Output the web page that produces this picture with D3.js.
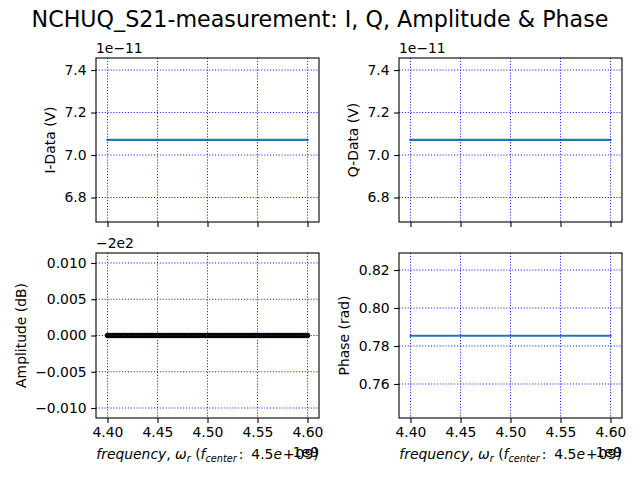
<!DOCTYPE html>
<html>
<head>
<meta charset="utf-8">
<script src="https://cdn.jsdelivr.net/npm/d3@7"></script>
<style>
  body { margin: 0; background: #fff; }
  svg { font-family: "DejaVu Sans", sans-serif; }
</style>
</head>
<body>
<svg id="chart" width="640" height="480"></svg>
<script>
// frequency sweep, in GHz (axis offset 1e9)
var freq = [4.400,4.402,4.404,4.406,4.408,4.410,4.412,4.414,4.416,4.418,
            4.420,4.422,4.424,4.426,4.428,4.430,4.432,4.434,4.436,4.438,
            4.440,4.442,4.444,4.446,4.448,4.450,4.452,4.454,4.456,4.458,
            4.460,4.462,4.464,4.466,4.468,4.470,4.472,4.474,4.476,4.478,
            4.480,4.482,4.484,4.486,4.488,4.490,4.492,4.494,4.496,4.498,
            4.500,4.502,4.504,4.506,4.508,4.510,4.512,4.514,4.516,4.518,
            4.520,4.522,4.524,4.526,4.528,4.530,4.532,4.534,4.536,4.538,
            4.540,4.542,4.544,4.546,4.548,4.550,4.552,4.554,4.556,4.558,
            4.560,4.562,4.564,4.566,4.568,4.570,4.572,4.574,4.576,4.578,
            4.580,4.582,4.584,4.586,4.588,4.590,4.592,4.594,4.596,4.598,
            4.600];

// I and Q in volts
var iData = [7.0711e-11,7.0711e-11,7.0711e-11,7.0711e-11,7.0711e-11,7.0711e-11,7.0711e-11,7.0711e-11,7.0711e-11,7.0711e-11,
             7.0711e-11,7.0711e-11,7.0711e-11,7.0711e-11,7.0711e-11,7.0711e-11,7.0711e-11,7.0711e-11,7.0711e-11,7.0711e-11,
             7.0711e-11,7.0711e-11,7.0711e-11,7.0711e-11,7.0711e-11,7.0711e-11,7.0711e-11,7.0711e-11,7.0711e-11,7.0711e-11,
             7.0711e-11,7.0711e-11,7.0711e-11,7.0711e-11,7.0711e-11,7.0711e-11,7.0711e-11,7.0711e-11,7.0711e-11,7.0711e-11,
             7.0711e-11,7.0711e-11,7.0711e-11,7.0711e-11,7.0711e-11,7.0711e-11,7.0711e-11,7.0711e-11,7.0711e-11,7.0711e-11,
             7.0711e-11,7.0711e-11,7.0711e-11,7.0711e-11,7.0711e-11,7.0711e-11,7.0711e-11,7.0711e-11,7.0711e-11,7.0711e-11,
             7.0711e-11,7.0711e-11,7.0711e-11,7.0711e-11,7.0711e-11,7.0711e-11,7.0711e-11,7.0711e-11,7.0711e-11,7.0711e-11,
             7.0711e-11,7.0711e-11,7.0711e-11,7.0711e-11,7.0711e-11,7.0711e-11,7.0711e-11,7.0711e-11,7.0711e-11,7.0711e-11,
             7.0711e-11,7.0711e-11,7.0711e-11,7.0711e-11,7.0711e-11,7.0711e-11,7.0711e-11,7.0711e-11,7.0711e-11,7.0711e-11,
             7.0711e-11,7.0711e-11,7.0711e-11,7.0711e-11,7.0711e-11,7.0711e-11,7.0711e-11,7.0711e-11,7.0711e-11,7.0711e-11,
             7.0711e-11];
var qData = [7.0711e-11,7.0711e-11,7.0711e-11,7.0711e-11,7.0711e-11,7.0711e-11,7.0711e-11,7.0711e-11,7.0711e-11,7.0711e-11,
             7.0711e-11,7.0711e-11,7.0711e-11,7.0711e-11,7.0711e-11,7.0711e-11,7.0711e-11,7.0711e-11,7.0711e-11,7.0711e-11,
             7.0711e-11,7.0711e-11,7.0711e-11,7.0711e-11,7.0711e-11,7.0711e-11,7.0711e-11,7.0711e-11,7.0711e-11,7.0711e-11,
             7.0711e-11,7.0711e-11,7.0711e-11,7.0711e-11,7.0711e-11,7.0711e-11,7.0711e-11,7.0711e-11,7.0711e-11,7.0711e-11,
             7.0711e-11,7.0711e-11,7.0711e-11,7.0711e-11,7.0711e-11,7.0711e-11,7.0711e-11,7.0711e-11,7.0711e-11,7.0711e-11,
             7.0711e-11,7.0711e-11,7.0711e-11,7.0711e-11,7.0711e-11,7.0711e-11,7.0711e-11,7.0711e-11,7.0711e-11,7.0711e-11,
             7.0711e-11,7.0711e-11,7.0711e-11,7.0711e-11,7.0711e-11,7.0711e-11,7.0711e-11,7.0711e-11,7.0711e-11,7.0711e-11,
             7.0711e-11,7.0711e-11,7.0711e-11,7.0711e-11,7.0711e-11,7.0711e-11,7.0711e-11,7.0711e-11,7.0711e-11,7.0711e-11,
             7.0711e-11,7.0711e-11,7.0711e-11,7.0711e-11,7.0711e-11,7.0711e-11,7.0711e-11,7.0711e-11,7.0711e-11,7.0711e-11,
             7.0711e-11,7.0711e-11,7.0711e-11,7.0711e-11,7.0711e-11,7.0711e-11,7.0711e-11,7.0711e-11,7.0711e-11,7.0711e-11,
             7.0711e-11];
// amplitude in dB
var ampData = [-200,-200,-200,-200,-200,-200,-200,-200,-200,-200,
               -200,-200,-200,-200,-200,-200,-200,-200,-200,-200,
               -200,-200,-200,-200,-200,-200,-200,-200,-200,-200,
               -200,-200,-200,-200,-200,-200,-200,-200,-200,-200,
               -200,-200,-200,-200,-200,-200,-200,-200,-200,-200,
               -200,-200,-200,-200,-200,-200,-200,-200,-200,-200,
               -200,-200,-200,-200,-200,-200,-200,-200,-200,-200,
               -200,-200,-200,-200,-200,-200,-200,-200,-200,-200,
               -200,-200,-200,-200,-200,-200,-200,-200,-200,-200,
               -200,-200,-200,-200,-200,-200,-200,-200,-200,-200,
               -200];
// phase in rad
var phaseData = [0.7854,0.7854,0.7854,0.7854,0.7854,0.7854,0.7854,0.7854,0.7854,0.7854,
                 0.7854,0.7854,0.7854,0.7854,0.7854,0.7854,0.7854,0.7854,0.7854,0.7854,
                 0.7854,0.7854,0.7854,0.7854,0.7854,0.7854,0.7854,0.7854,0.7854,0.7854,
                 0.7854,0.7854,0.7854,0.7854,0.7854,0.7854,0.7854,0.7854,0.7854,0.7854,
                 0.7854,0.7854,0.7854,0.7854,0.7854,0.7854,0.7854,0.7854,0.7854,0.7854,
                 0.7854,0.7854,0.7854,0.7854,0.7854,0.7854,0.7854,0.7854,0.7854,0.7854,
                 0.7854,0.7854,0.7854,0.7854,0.7854,0.7854,0.7854,0.7854,0.7854,0.7854,
                 0.7854,0.7854,0.7854,0.7854,0.7854,0.7854,0.7854,0.7854,0.7854,0.7854,
                 0.7854,0.7854,0.7854,0.7854,0.7854,0.7854,0.7854,0.7854,0.7854,0.7854,
                 0.7854,0.7854,0.7854,0.7854,0.7854,0.7854,0.7854,0.7854,0.7854,0.7854,
                 0.7854];

var xTicks = [4.40, 4.45, 4.50, 4.55, 4.60];
var iqTicks = [6.8, 7.0, 7.2, 7.4];
var ampTicks = [-0.010, -0.005, 0.000, 0.005, 0.010];
var phaseTicks = [0.76, 0.78, 0.80, 0.82];

var svg = d3.select("#chart");
var tickLen = 4.9;
var fontSize = 13.9;

svg.append("text")
    .attr("x", 320).attr("y", 27)
    .attr("text-anchor", "middle")
    .attr("font-size", 22.2)
    .text("NCHUQ_S21-measurement: I, Q, Amplitude & Phase");

var drawPanel = function(p)
{
    var g = svg.append("g");
    var x = d3.scaleLinear().domain([4.3885, 4.6115]).range([p.left, p.right]);
    var y = d3.scaleLinear().domain(p.yDomain).range([p.bottom, p.top]);

    var pts = freq.map(function(f, i) { return [f, p.values[i] / p.scale - p.offset]; });
    var line = d3.line().x(function(d) { return x(d[0]); }).y(function(d) { return y(d[1]); });

    if(p.markers)
        {
            g.append("path").datum(pts).attr("d", line)
                .attr("fill", "none").attr("stroke", "black").attr("stroke-width", 2.1);
            g.selectAll("circle.pt").data(pts).enter().append("circle")
                .attr("cx", function(d) { return x(d[0]); })
                .attr("cy", function(d) { return y(d[1]); })
                .attr("r", 2.7).attr("fill", "black");
        }
    else
        {
            g.append("path").datum(pts).attr("d", line)
                .attr("fill", "none").attr("stroke", "#1f77b4")
                .attr("stroke-width", 2.1).attr("stroke-linecap", "square");
        }

    // grid sits on top of the data, as in the reference
    g.selectAll("line.gx").data(xTicks).enter().append("line")
        .attr("x1", function(d) { return x(d); }).attr("x2", function(d) { return x(d); })
        .attr("y1", p.top).attr("y2", p.bottom);
    g.selectAll("line.gy").data(p.yTicks).enter().append("line")
        .attr("y1", function(d) { return y(d); }).attr("y2", function(d) { return y(d); })
        .attr("x1", p.left).attr("x2", p.right);
    g.selectAll("line").attr("stroke", "#0000ff").attr("stroke-width", 0.9)
        .attr("stroke-dasharray", "1.1,1.8");

    var xAxis = d3.axisBottom(x).tickValues(xTicks).tickSize(tickLen).tickPadding(4.5)
        .tickFormat(p.xLabels ? d3.format(".2f") : function() { return ""; });
    var yAxis = d3.axisLeft(y).tickValues(p.yTicks).tickSize(tickLen).tickPadding(4.5)
        .tickFormat(d3.format(p.yFormat));

    var gx = g.append("g").attr("transform", "translate(0," + p.bottom + ")").call(xAxis);
    var gy = g.append("g").attr("transform", "translate(" + p.left + ",0)").call(yAxis);
    [gx, gy].forEach(function(a) {
        a.select(".domain").remove();
        a.selectAll("line").attr("stroke", "black").attr("stroke-width", 1.1);
        a.selectAll("text").attr("font-size", fontSize).attr("font-family", "DejaVu Sans").attr("fill", "black");
    });

    g.append("rect")
        .attr("x", p.left).attr("y", p.top)
        .attr("width", p.right - p.left).attr("height", p.bottom - p.top)
        .attr("fill", "none").attr("stroke", "black").attr("stroke-width", 1.1);

    g.append("text").attr("x", p.left).attr("y", p.top - 5)
        .attr("font-size", fontSize).text(p.offsetText);

    g.append("text")
        .attr("transform", "translate(" + p.labelX + "," + ((p.top + p.bottom) / 2) + ") rotate(-90)")
        .attr("text-anchor", "middle").attr("dy", "0.35em")
        .attr("font-size", fontSize).text(p.yLabel);

    if(p.xLabels)
        {
            var cx = (p.left + p.right) / 2;
            var t = g.append("text").attr("x", cx).attr("y", p.bottom + 41)
                .attr("text-anchor", "middle").attr("font-size", fontSize);
            t.append("tspan").attr("font-style", "italic").text("frequency");
            t.append("tspan").text(", ");
            t.append("tspan").attr("font-style", "italic").text("ω");
            t.append("tspan").attr("font-style", "italic").attr("font-size", 9.7).attr("dy", 2.5).text("r");
            t.append("tspan").attr("dy", -2.5).text(" (");
            t.append("tspan").attr("font-style", "italic").text("f");
            t.append("tspan").attr("font-style", "italic").attr("font-size", 9.7).attr("dy", 2.5).text("center");
            t.append("tspan").attr("dy", -2.5).attr("dx", 2).text(":");
            t.append("tspan").attr("dx", 8).text("4.5");
            t.append("tspan").attr("font-style", "italic").text("e");
            t.append("tspan").attr("dx", 1).text("+");
            t.append("tspan").attr("dx", 1).text("09)");

            g.append("text").attr("x", p.right).attr("y", p.bottom + 39)
                .attr("text-anchor", "end").attr("font-size", fontSize).text("1e9");
        }
}

drawPanel({ left: 96, right: 319, top: 58, bottom: 222, values: iData, scale: 1e-11, offset: 0,
            yDomain: [6.6847, 7.4567], yTicks: iqTicks, yFormat: ".1f", offsetText: "1e\u221211",
            yLabel: "I-Data (V)", labelX: 50, xLabels: false });
drawPanel({ left: 399, right: 622, top: 58, bottom: 222, values: qData, scale: 1e-11, offset: 0,
            yDomain: [6.6847, 7.4567], yTicks: iqTicks, yFormat: ".1f", offsetText: "1e\u221211",
            yLabel: "Q-Data (V)", labelX: 353, xLabels: false });
drawPanel({ left: 96, right: 319, top: 253, bottom: 418, values: ampData, scale: 1, offset: -200,
            yDomain: [-0.01138, 0.01138], yTicks: ampTicks, yFormat: ".3f", offsetText: "\u22122e2",
            yLabel: "Amplitude (dB)", labelX: 21, xLabels: true, markers: true });
drawPanel({ left: 399, right: 622, top: 253, bottom: 418, values: phaseData, scale: 1, offset: 0,
            yDomain: [0.7421, 0.82895], yTicks: phaseTicks, yFormat: ".2f", offsetText: "",
            yLabel: "Phase (rad)", labelX: 344, xLabels: true });
</script>
</body>
</html>
